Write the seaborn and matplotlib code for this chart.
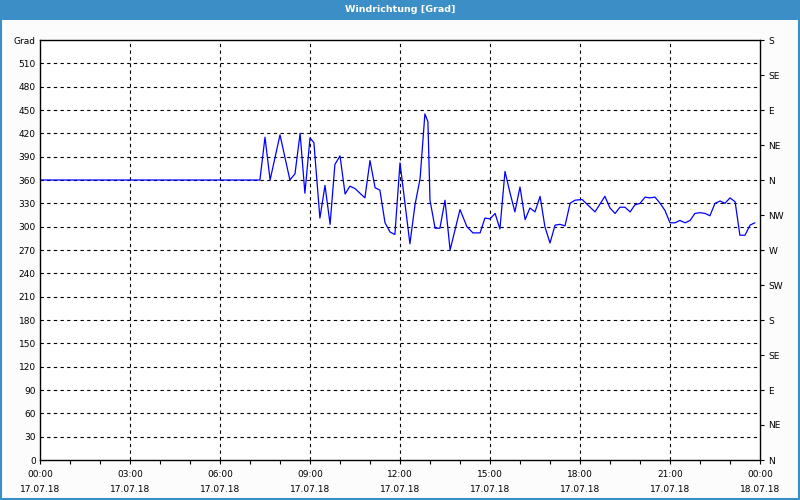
import matplotlib
matplotlib.use("Agg")
import matplotlib.pyplot as plt
import seaborn as sns
import pandas as pd
from matplotlib.patches import Rectangle

# ---- data ----
hours = [0.0, 7.33, 7.5, 7.67, 8.0, 8.33, 8.5, 8.67, 8.83, 9.0, 9.13, 9.33, 9.5, 9.67, 9.83,
         10.0, 10.17, 10.33, 10.5, 10.83, 11.0, 11.17, 11.33, 11.5, 11.67, 11.83, 12.0, 12.07,
         12.33, 12.5, 12.67, 12.83, 12.93, 13.0, 13.17, 13.33, 13.5, 13.67, 14.0, 14.23, 14.43,
         14.67, 14.83, 15.0, 15.17, 15.33, 15.5, 15.67, 15.83, 16.0, 16.17, 16.33, 16.5, 16.67,
         16.83, 17.0, 17.17, 17.33, 17.5, 17.67, 17.83, 18.07, 18.23, 18.5, 18.83, 19.0, 19.17,
         19.33, 19.5, 19.67, 19.83, 20.0, 20.17, 20.33, 20.5, 20.67, 20.83, 21.0, 21.17, 21.33,
         21.5, 21.67, 21.83, 22.0, 22.17, 22.33, 22.5, 22.67, 22.83, 23.0, 23.17, 23.33, 23.5,
         23.67, 23.83]
direction = [360, 360, 415, 360, 418, 360, 368, 420, 343, 414, 408, 311, 353, 303, 380,
             391, 342, 352, 349, 337, 385, 350, 347, 305, 293, 290, 382, 360,
             278, 328, 362, 445, 435, 334, 298, 298, 334, 270, 322, 300, 292,
             292, 311, 310, 317, 297, 371, 343, 319, 351, 309, 324, 319, 339,
             300, 279, 302, 303, 301, 330, 334, 335, 329, 319, 339, 324, 317,
             325, 325, 319, 328, 330, 338, 337, 338, 330, 321, 305, 305, 308,
             305, 308, 317, 318, 317, 314, 330, 333, 330, 337, 332, 289, 289,
             302, 305]

x_ticks = [0, 3, 6, 9, 12, 15, 18, 21, 24]
x_labels = ["00:00\n17.07.18", "03:00\n17.07.18", "06:00\n17.07.18", "09:00\n17.07.18",
            "12:00\n17.07.18", "15:00\n17.07.18", "18:00\n17.07.18", "21:00\n17.07.18",
            "00:00\n18.07.18"]
y_ticks = list(range(0, 541, 30))
y_labels = [str(v) for v in range(0, 511, 30)] + ["Grad"]
compass_ticks = list(range(0, 541, 45))
compass_labels = ["N", "NE", "E", "SE", "S", "SW", "W", "NW", "N", "NE", "E", "SE", "S"]
title = "Windrichtung [Grad]"

df = pd.DataFrame({"hour": hours, "dir": direction})

sns.set_style("white")
plt.rcParams["font.family"] = ["DejaVu Sans"]
plt.rcParams["text.color"] = "black"
plt.rcParams["xtick.color"] = "black"
plt.rcParams["ytick.color"] = "black"

fig = plt.figure(figsize=(8, 5), dpi=100, facecolor="#fcfcfc")
bar_color = "#3c8fc6"
fig.patches.append(Rectangle((0, 0.96), 1, 0.04, transform=fig.transFigure,
                             facecolor=bar_color, edgecolor="none", zorder=0))
fig.patches.append(Rectangle((0.001, 0.002), 0.998, 0.996, transform=fig.transFigure,
                             facecolor="none", edgecolor=bar_color, linewidth=1.5, zorder=0))
fig.text(0.5, 0.98, title, color="white", fontsize=6.8, fontweight="bold",
         ha="center", va="center")

ax = fig.add_axes([0.05, 0.08, 0.90, 0.84])
ax.set_facecolor("white")
sns.lineplot(data=df, x="hour", y="dir", ax=ax, color="#0000ff", linewidth=0.9)

ax.set_xlim(0, 24)
ax.set_ylim(0, 540)
ax.set_xlabel("")
ax.set_ylabel("")

ax.set_xticks(x_ticks)
ax.set_xticklabels(x_labels, fontsize=6.5, linespacing=1.9)
ax.set_xticks(range(0, 25), minor=True)
ax.tick_params(axis="x", which="both", direction="out", length=3, width=0.8,
               color="black", labelcolor="black", pad=4, bottom=True)

ax.set_yticks(y_ticks)
ax.set_yticklabels(y_labels, fontsize=6.5)
ax.tick_params(axis="y", length=0, pad=3, left=True, labelcolor="black")

for v in range(30, 540, 30):
    ax.axhline(v, color="black", linestyle=(0, (3, 3)), linewidth=0.8, zorder=1)
for h in range(3, 24, 3):
    ax.axvline(h, color="black", linestyle=(0, (3, 3)), linewidth=0.8, zorder=1)

for s in ax.spines.values():
    s.set_visible(True)
    s.set_color("black")
    s.set_linewidth(1.0)

ax2 = ax.twinx()
ax2.set_ylim(0, 540)
ax2.set_yticks(compass_ticks)
ax2.set_yticklabels(compass_labels, fontsize=6.5)
ax2.tick_params(axis="y", direction="out", length=3, width=0.8, color="black",
                labelcolor="black", pad=3, right=True)
for s in ax2.spines.values():
    s.set_visible(False)

fig.savefig("out.png", dpi=100, facecolor=fig.get_facecolor())
